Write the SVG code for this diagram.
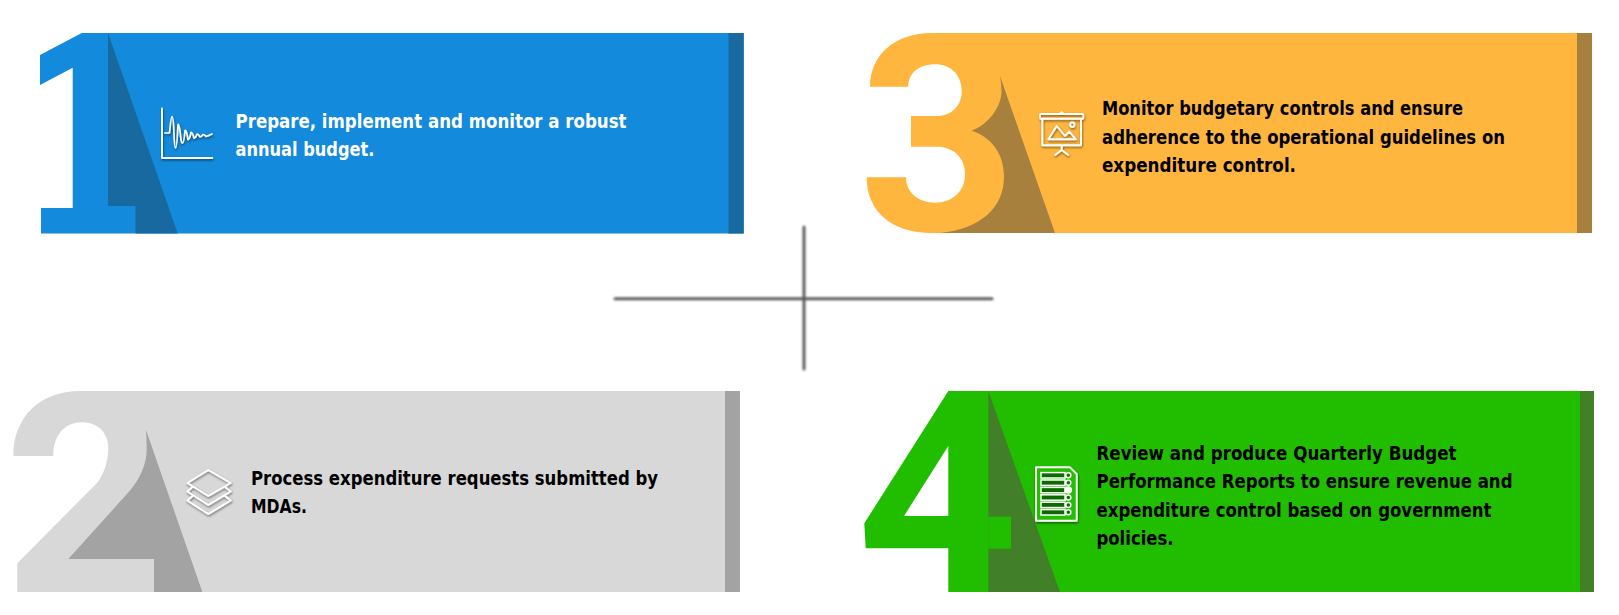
<svg xmlns="http://www.w3.org/2000/svg" width="1619" height="615" viewBox="0 0 1619 615">
<style>
text{font-family:"DejaVu Sans","Liberation Sans",sans-serif;font-weight:700;font-size:20px;fill:#000}
.w{fill:#fff}
.ic{fill:none;stroke:#fff;stroke-width:1.9;stroke-linejoin:round;stroke-linecap:round;filter:url(#sh)}
.cr{stroke:#5c5c5c;stroke-width:3;stroke-linecap:round;filter:url(#bl)}
</style>
<defs>
<filter id="sh" x="-20%" y="-20%" width="150%" height="150%"><feDropShadow dx="0.6" dy="1.4" stdDeviation="1" flood-color="#000" flood-opacity=".55"/></filter>
<filter id="bl" x="600" y="215" width="410" height="170" filterUnits="userSpaceOnUse"><feGaussianBlur stdDeviation="0.8"/></filter>
</defs>
<rect width="1619" height="615" fill="#fff"/>
<g id="connectors">
<line class="cr" x1="615" y1="298.8" x2="992" y2="298.8"/>
<line class="cr" x1="804" y1="227" x2="804" y2="369"/>
</g>
<g id="node-1">
<path fill="#148ADC" d="M40 55L81.7 33H743.7V233.500H41V208H72.7V67.7L40 85Z"/>
<path fill="#17699F" d="M108 33L177.700 233.500H135.500V206H108Z"/>
<rect x="728.500" y="33" width="15.200" height="200.500" fill="#17699F"/>
<g class="ic">
<path d="M162 108.500V158H212.300"/>
<path stroke-width="1.700" d="M165 133H169.500Q171 116.700 172 116.700Q173.500 116.700 174 135Q174.500 148 175.500 148Q177 148 178 124.500Q179.500 124 181 140Q181.700 143 182.500 143Q184 143 185 130.500Q186.500 130 188 139.500Q189.500 140 191 132.500Q192.500 132 194 138Q195.500 138.500 197 134Q198.500 134 200 137Q201.500 137 203 134.500Q204.500 134.500 206 136.500Q208 136 212 134"/>
</g>
<text class="w" x="235.500" y="128" textLength="391" lengthAdjust="spacingAndGlyphs">Prepare, implement and monitor a robust</text>
<text class="w" x="235.500" y="156" textLength="139" lengthAdjust="spacingAndGlyphs">annual budget.</text>
</g>
<g id="node-2">
<path fill="#D8D8D8" d="M80 391H740V592H17.300V563.300L97 483C104 474 108.300 461 108.300 448C108.300 432 97 422.300 81.700 422.300C64 422.300 53.300 436 53.300 456H13.300C13.300 417 40 391 80 391Z"/>
<path fill="#A3A3A3" d="M146 430L202.400 592H154V559H68.300L123.300 498C133 488 146 472 146.700 450Q146.700 440 146 430Z"/>
<rect x="725" y="391" width="15" height="201" fill="#A3A3A3"/>
<g class="ic">
<path d="M208.300 470L230.700 483L208.300 496L187.300 483Z"/>
<path d="M192.500 487L187.300 491.500L208.300 505L230.700 491.500L225 487"/>
<path d="M192.500 496L187.300 500.500L208.300 514L230.700 500.500L225 496"/>
</g>
<text x="251" y="485" textLength="407" lengthAdjust="spacingAndGlyphs">Process expenditure requests submitted by</text>
<text x="251" y="513" textLength="56" lengthAdjust="spacingAndGlyphs">MDAs.</text>
</g>
<g id="node-3">
<path fill="#FFB63F" d="M931.700 33H1592V233H931.700C892 233 866.700 212 866.700 177.300H906C906 192 918 202.700 935 202.700C953 202.700 965 191 965 174C965 157 953 146.700 936.700 146.700H911V116H936.700C951 116 961.700 106 961.700 91.700C961.700 75 951 64.300 935 64.300C919 64.300 908.300 73 908.300 86.700H870C870 55 895 33 931.700 33Z"/>
<path fill="#A8803E" d="M1000 76L1055 233H940C980 229 1004 208 1004 176.700C1004 153 991 137 971.700 130.700C989 124 1001 107 1001.500 92Q1001.500 84 1000 76Z"/>
<rect x="1577" y="33" width="15" height="200" fill="#A8803E"/>
<g class="ic">
<rect x="1040" y="114" width="43.300" height="4.700" rx="1"/>
<path d="M1060.300 113.500Q1061.700 111 1063 113.500"/>
<path d="M1042.300 118.700V145.300H1081V118.700M1061.700 145.300V150M1055 155L1061.700 150L1068.300 155"/>
<path d="M1048.300 139.300L1056.700 126L1065 136L1069.300 131.700L1076 139.300Z"/>
<circle cx="1072.300" cy="124.700" r="2.200"/>
</g>
<text x="1102" y="115" textLength="361" lengthAdjust="spacingAndGlyphs">Monitor budgetary controls and ensure</text>
<text x="1102" y="143.500" textLength="403" lengthAdjust="spacingAndGlyphs">adherence to the operational guidelines on</text>
<text x="1102" y="172" textLength="194" lengthAdjust="spacingAndGlyphs">expenditure control.</text>
</g>
<g id="node-4">
<path fill="#21BE00" fill-rule="evenodd" d="M948.300 391H1594V592H948.300V548.300H865.700L864.300 523.300ZM948.300 446L904 516H948.300Z"/>
<path fill="#418029" d="M988.300 391L1060 592H988.300Z"/>
<rect x="988.300" y="516.700" width="22.700" height="32" fill="#21BE00"/>
<rect x="1580" y="391" width="14" height="201" fill="#418029"/>
<g filter="url(#sh)">
<path d="M1036 467.300H1070L1076.700 474V520.700H1036Z" fill="#21BE00" stroke="#fff" stroke-width="1.900" stroke-linejoin="round"/>
<g fill="#0E6B00" stroke="#fff" stroke-width="1.500">
<rect x="1041" y="472.600" width="24" height="5.400"/>
<rect x="1041" y="480" width="24" height="5.400"/>
<rect x="1041" y="487.400" width="24" height="5.400"/>
<rect x="1041" y="494.800" width="24" height="5.400"/>
<rect x="1041" y="502.200" width="24" height="5.400"/>
<rect x="1041" y="509.600" width="24" height="5.400"/>
<circle cx="1068.300" cy="475.300" r="2.500"/>
<circle cx="1068.300" cy="482.800" r="2.500"/>
<circle cx="1068.300" cy="490" r="3" fill="#fff"/>
<circle cx="1068.300" cy="497.500" r="2.500"/>
<circle cx="1068.300" cy="504.900" r="2.500"/>
<circle cx="1068.300" cy="512.300" r="2.500"/>
</g>
</g>
<text x="1096.500" y="459.500" textLength="360" lengthAdjust="spacingAndGlyphs">Review and produce Quarterly Budget</text>
<text x="1096.500" y="488" textLength="416" lengthAdjust="spacingAndGlyphs">Performance Reports to ensure revenue and</text>
<text x="1096.500" y="516.500" textLength="395" lengthAdjust="spacingAndGlyphs">expenditure control based on government</text>
<text x="1096.500" y="545" textLength="77" lengthAdjust="spacingAndGlyphs">policies.</text>
</g>
</svg>
